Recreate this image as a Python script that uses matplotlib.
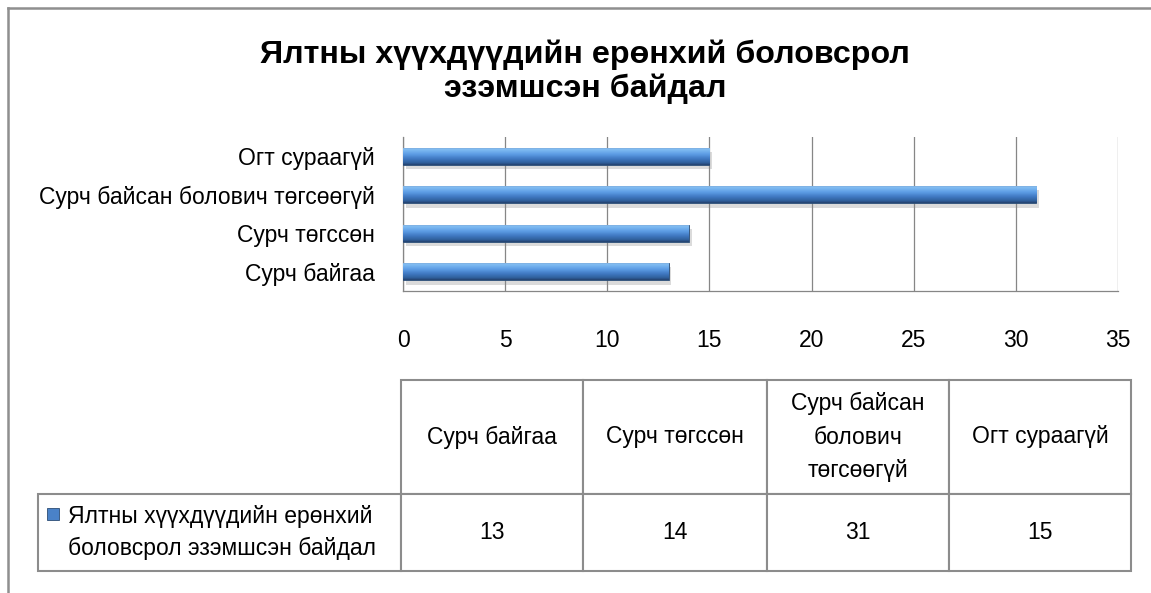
import matplotlib
matplotlib.use("Agg")
import matplotlib.pyplot as plt
import numpy as np
from matplotlib.colors import LinearSegmentedColormap
from matplotlib.table import Table
from matplotlib.lines import Line2D
from matplotlib.patches import Rectangle
import matplotlib.patheffects as pe

categories = ["Сурч байгаа", "Сурч төгссөн", "Сурч байсан болович төгсөөгүй", "Огт сураагүй"]
header_labels = ["Сурч байгаа", "Сурч төгссөн", "Сурч байсан\nболович\nтөгсөөгүй", "Огт сураагүй"]
values = [13, 14, 31, 15]
series_name = "Ялтны хүүхдүүдийн ерөнхий\nболовсрол эзэмшсэн байдал"
title = "Ялтны хүүхдүүдийн ерөнхий боловсрол\nэзэмшсэн байдал"
x_ticks = [0, 5, 10, 15, 20, 25, 30, 35]

plt.rcParams['font.family'] = ['Liberation Sans', 'DejaVu Sans']

W, H = 1151, 593
fig = plt.figure(figsize=(W / 100, H / 100), dpi=100)
fig.patch.set_facecolor('white')

def fx(px):
    return px / W

def fy(py):
    return 1 - py / H

# outer frame (left + top only visible)
frame_c = '#8f8f8f'
fig.add_artist(Line2D([fx(8), fx(8)], [fy(8), 0], color=frame_c, lw=1.8, transform=fig.transFigure))
fig.add_artist(Line2D([fx(8), 1], [fy(8), fy(8)], color=frame_c, lw=1.8, transform=fig.transFigure))

# title
fig.text(fx(585), fy(72), title, ha='center', va='center', fontsize=23.2,
         fontweight='bold', linespacing=1.15)

# bar chart
ax = fig.add_axes([fx(403), fy(291), fx(1118 - 403), (291 - 137) / H])
y = np.arange(len(categories))
bars = ax.barh(y, values, height=0.45, facecolor='#3f6fae', edgecolor='#2c4d75',
               lw=0.6, zorder=3,
               path_effects=[pe.SimplePatchShadow(offset=(2, -3), shadow_rgbFace='#8a8a8a', alpha=0.3),
                             pe.Normal()])

grad_cmap = LinearSegmentedColormap.from_list(
    'bevel', [(0.0, '#7ea3cf'), (0.12, '#82bdf3'), (0.4, '#5c9ce4'),
              (0.65, '#4079c2'), (0.88, '#30609c'), (1.0, '#24426e')])
grad = np.linspace(0, 1, 64).reshape(-1, 1)
for b in bars:
    x0, y0 = b.get_x(), b.get_y()
    w, h = b.get_width(), b.get_height()
    im = ax.imshow(grad, extent=[x0, x0 + w, y0, y0 + h], aspect='auto',
                   cmap=grad_cmap, origin='upper', zorder=3.5, interpolation='bilinear')
    im.set_clip_path(b)

ax.set_xlim(0, 35)
ax.set_ylim(-0.5, len(categories) - 0.5)
ax.set_xticks(x_ticks)
ax.set_yticks(y)
ax.set_yticklabels(categories)
ax.tick_params(axis='both', length=0, labelsize=16.5)
ax.tick_params(axis='x', pad=27)
ax.tick_params(axis='y', pad=20)
ax.grid(axis='x', color='#868686', lw=0.9)
ax.grid(axis='y', visible=False)
ax.set_axisbelow(True)
for s in ['top', 'right']:
    ax.spines[s].set_visible(False)
for s in ['left', 'bottom']:
    ax.spines[s].set_color('#868686')
    ax.spines[s].set_linewidth(0.9)

# data table
tl, tr, tt, tb = 38, 1131, 380, 571
ax_t = fig.add_axes([fx(tl), fy(tb), fx(tr - tl), (tb - tt) / H])
ax_t.set_axis_off()
col_w = [363, 182, 184, 182, 182]
row_h = [114, 77]
tot_w = sum(col_w)
tot_h = sum(row_h)
tab = Table(ax_t, bbox=[0, 0, 1, 1])
tab.auto_set_font_size(False)
edge_c = '#8c8c8c'
for c in range(5):
    for r in range(2):
        if c == 0 and r == 0:
            txt, loc = '', 'center'
        elif c == 0:
            txt, loc = series_name, 'left'
        elif r == 0:
            txt, loc = header_labels[c - 1], 'center'
        else:
            txt, loc = str(values[c - 1]), 'center'
        cell = tab.add_cell(r, c, col_w[c] / tot_w, row_h[r] / tot_h, text=txt, loc=loc,
                            edgecolor=edge_c)
        cell.set_linewidth(1.5)
        cell.get_text().set_fontsize(16.5)
        cell.get_text().set_linespacing(1.6 if r == 0 else 1.5)
        if c == 0 and r == 0:
            cell.visible_edges = ''
        if c == 0 and r == 1:
            cell.PAD = 30 / 363
ax_t.add_table(tab)

# legend key in table
kx0, ky0, ks = 47, 508, 12
ax_t.add_patch(Rectangle(((kx0 - tl) / tot_w, 1 - (ky0 + ks - tt) / tot_h), ks / tot_w, ks / tot_h,
                         transform=ax_t.transAxes, facecolor='#4a82c8', edgecolor='#2c4d75',
                         lw=0.6, clip_on=False))

fig.savefig('out.png', dpi=100)
